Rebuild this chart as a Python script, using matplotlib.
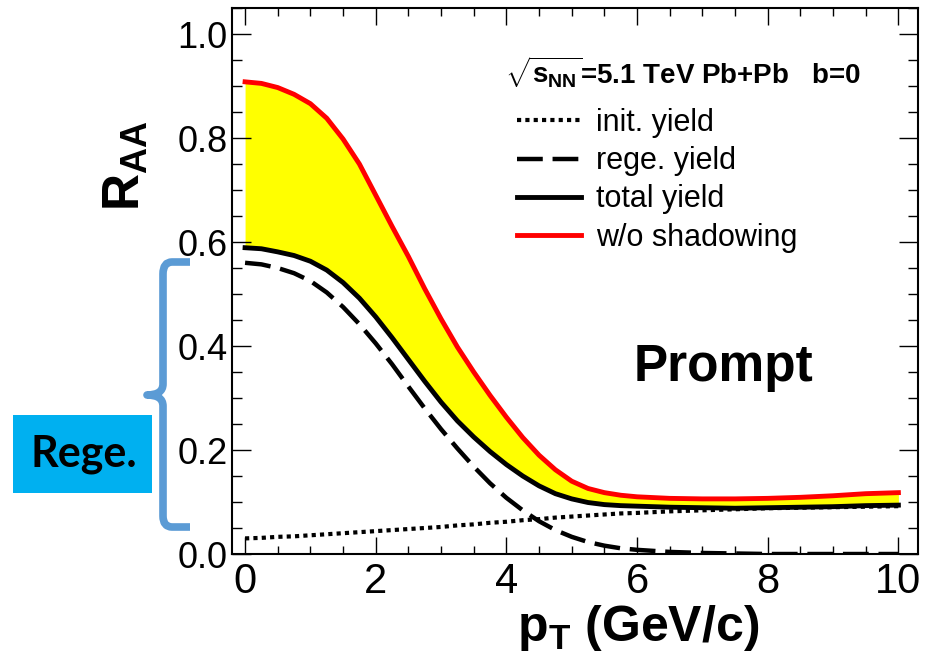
import matplotlib
matplotlib.use("Agg")
import matplotlib.pyplot as plt
from matplotlib.path import Path
from matplotlib.patches import PathPatch, Rectangle
from matplotlib.ticker import MultipleLocator, FormatStrFormatter

plt.rcParams['font.family'] = ['Liberation Sans', 'DejaVu Sans']
plt.rcParams['mathtext.fontset'] = 'custom'
plt.rcParams['mathtext.rm'] = 'Liberation Sans'
plt.rcParams['mathtext.it'] = 'Liberation Sans:italic'
plt.rcParams['mathtext.bf'] = 'Liberation Sans:bold'

# ---- data ----
pt = [0.0, 0.25, 0.5, 0.75, 1.0, 1.25, 1.5, 1.75, 2.0, 2.25, 2.5, 2.75, 3.0,
      3.25, 3.5, 3.75, 4.0, 4.25, 4.5, 4.75, 5.0, 5.25, 5.5, 5.75, 6.0,
      6.5, 7.0, 7.5, 8.0, 8.5, 9.0, 9.5, 10.0]
init_yield = [0.030, 0.031, 0.033, 0.034, 0.036, 0.038, 0.040, 0.042, 0.044, 0.046, 0.048, 0.050, 0.052,
              0.055, 0.057, 0.060, 0.062, 0.065, 0.067, 0.070, 0.072, 0.074, 0.076, 0.078, 0.079,
              0.082, 0.084, 0.086, 0.088, 0.089, 0.090, 0.091, 0.092]
rege_yield = [0.560, 0.557, 0.550, 0.540, 0.525, 0.503, 0.475, 0.442, 0.405, 0.365, 0.322, 0.280, 0.240,
              0.203, 0.168, 0.136, 0.108, 0.084, 0.063, 0.046, 0.033, 0.023, 0.016, 0.011, 0.008,
              0.004, 0.002, 0.001, 0.0, 0.0, 0.0, 0.0, 0.0]
total_yield = [0.589, 0.587, 0.581, 0.574, 0.563, 0.546, 0.522, 0.492, 0.456, 0.416, 0.374, 0.332, 0.292,
               0.256, 0.225, 0.197, 0.172, 0.150, 0.131, 0.116, 0.106, 0.099, 0.095, 0.093, 0.092,
               0.090, 0.089, 0.088, 0.089, 0.090, 0.091, 0.093, 0.094]
no_shadow = [0.908, 0.905, 0.897, 0.884, 0.866, 0.838, 0.798, 0.750, 0.690, 0.630, 0.572, 0.510, 0.452,
             0.398, 0.350, 0.305, 0.263, 0.224, 0.190, 0.162, 0.140, 0.126, 0.118, 0.113, 0.110,
             0.107, 0.106, 0.106, 0.107, 0.109, 0.112, 0.116, 0.118]

labels = ['init. yield', 'rege. yield', 'total yield', 'w/o shadowing']
xticks = [0, 2, 4, 6, 8, 10]
yticks = [0.0, 0.2, 0.4, 0.6, 0.8, 1.0]

W, H = 938, 670
fig = plt.figure(figsize=(W / 100, H / 100), dpi=100)
ax = fig.add_axes([232 / W, (H - 554) / H, 686 / W, 546 / H])

ax.fill_between(pt, total_yield, no_shadow, color='#FFFF00', lw=0, zorder=1)
l_init, = ax.plot(pt, init_yield, color='black', lw=3.0, dashes=(1, 1), zorder=3)
l_rege, = ax.plot(pt, rege_yield, color='black', lw=3.2, dashes=(5.8, 2.2), zorder=3)
l_tot, = ax.plot(pt, total_yield, color='black', lw=3.5, zorder=4)
l_red, = ax.plot(pt, no_shadow, color='#FF0000', lw=3.5, zorder=4)

ax.set_xlim(-0.2, 10.3)
ax.set_ylim(0, 1.05)
ax.set_xticks(xticks)
ax.set_yticks(yticks)
ax.xaxis.set_minor_locator(MultipleLocator(0.5))
ax.yaxis.set_minor_locator(MultipleLocator(0.05))
ax.yaxis.set_major_formatter(FormatStrFormatter('%.1f'))
ax.tick_params(axis='both', which='both', direction='in', top=True, right=True, width=1.0)
ax.tick_params(axis='x', which='major', length=12, labelsize=30, pad=6)
ax.tick_params(axis='x', which='minor', length=6)
ax.tick_params(axis='y', which='major', length=14, labelsize=26, pad=3)
ax.tick_params(axis='y', which='minor', length=7)
for s in ax.spines.values():
    s.set_linewidth(1.5)

ax.set_xlabel(r'$\mathbf{p}_{\mathbf{T}}$ (GeV/c)', fontsize=36, fontweight='bold', va='center')
ax.xaxis.set_label_coords((638 - 232) / 686, (554 - 628) / 546)
ax.set_ylabel(r'$\mathbf{R}_{\mathbf{AA}}$', fontsize=37, fontweight='bold', va='center', ha='center')
ax.yaxis.set_label_coords((126 - 232) / 686, (554 - 166) / 546)

ax.text((505 - 232) / 686, (554 - 72) / 546,
        r'$\sqrt{\mathbf{s}_{\mathbf{NN}}}$=5.1 TeV Pb+Pb   b=0',
        transform=ax.transAxes, fontsize=20, fontweight='bold', va='center', ha='left')
ax.text((723 - 232) / 686, (554 - 367) / 546, 'Prompt', transform=ax.transAxes,
        fontsize=37, fontweight='bold', ha='center', va='center')

ax.legend([l_init, l_rege, l_tot, l_red], labels, loc='upper left',
          bbox_to_anchor=((517 - 232) / 686, (554 - 108) / 546), bbox_transform=ax.transAxes,
          frameon=False, fontsize=22, handlelength=2.1, handletextpad=0.5,
          labelspacing=0.27, borderpad=0, borderaxespad=0)

# ---- annotation: brace and "Rege." box (figure pixel coords, y down) ----
def fp(x, y):
    return (x / W, 1 - y / H)

verts = [fp(190, 262), fp(172, 262), fp(163, 262), fp(163, 274),
         fp(163, 384), fp(163, 395), fp(147, 395),
         fp(163, 395), fp(163, 406),
         fp(163, 516), fp(163, 527), fp(172, 527), fp(190, 527)]
codes = [Path.MOVETO, Path.LINETO, Path.CURVE3, Path.CURVE3,
         Path.LINETO, Path.CURVE3, Path.CURVE3,
         Path.CURVE3, Path.CURVE3,
         Path.LINETO, Path.CURVE3, Path.CURVE3, Path.LINETO]
brace = PathPatch(Path(verts, codes), transform=fig.transFigure, facecolor='none',
                  edgecolor='#5B9BD5', lw=5.5, capstyle='butt', joinstyle='round')
fig.patches.append(brace)

box = Rectangle(fp(13, 493), 139 / W, 78 / H, transform=fig.transFigure,
                facecolor='#00B0F0', edgecolor='none')
fig.patches.append(box)
fig.text(84 / W, 1 - 454 / H, 'Rege.', fontsize=31, fontweight='bold',
         family=['Lato', 'DejaVu Sans'], ha='center', va='center')

fig.savefig('out.png', dpi=100)
